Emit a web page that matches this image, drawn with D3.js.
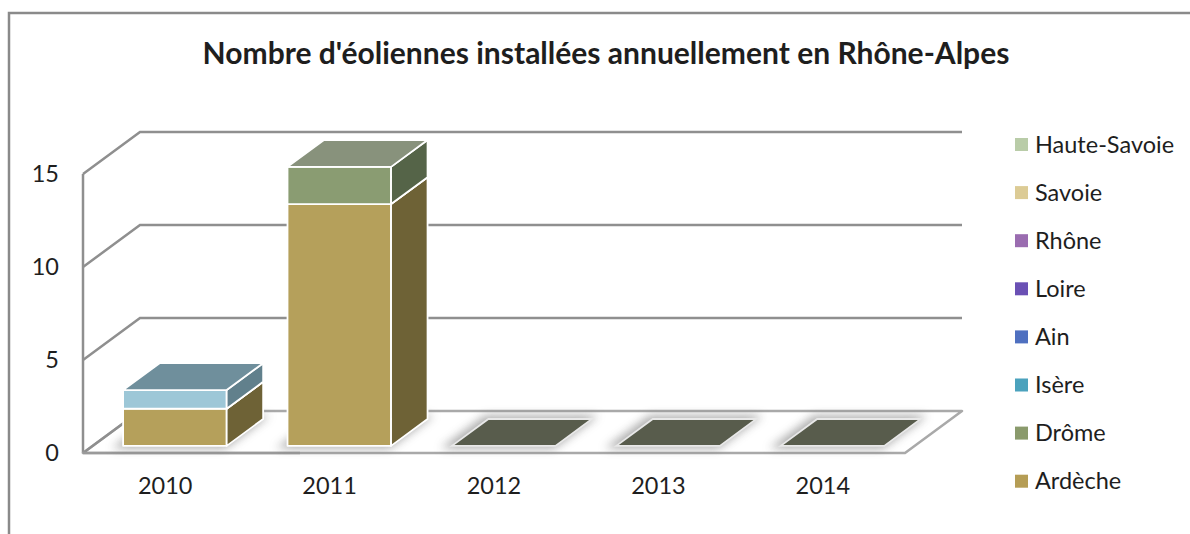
<!DOCTYPE html>
<html>
<head>
<meta charset="utf-8">
<script src="https://cdn.jsdelivr.net/npm/d3@7"></script>
<style>
  body { margin: 0; background: #fff; }
  text { font-family: Lato, "Noto Sans", sans-serif; fill: #1e1e1e; }
</style>
</head>
<body>
<script>
const years = ["2010", "2011", "2012", "2013", "2014"];
const departements = ["Ardèche", "Drôme", "Isère", "Ain", "Loire", "Rhône", "Savoie", "Haute-Savoie"];
const ardeche = [2, 13, 0, 0, 0];
const drome = [0, 2, 0, 0, 0];
const isere = [1, 0, 0, 0, 0];
const ain = [0, 0, 0, 0, 0];
const loire = [0, 0, 0, 0, 0];
const rhone = [0, 0, 0, 0, 0];
const savoie = [0, 0, 0, 0, 0];
const hauteSavoie = [0, 0, 0, 0, 0];
const yTicks = [0, 5, 10, 15];
const title = "Nombre d'éoliennes installées annuellement en Rhône-Alpes";

const WIDTH = 1190, HEIGHT = 534;
const LEFT = 83, RIGHT = 905, BOTTOM = 453, TOP = 174;
const DX = 57, DY = -42;        // depth vector of the 3D box
const FRONT = 0.17, BACK = 0.81; // bar depth inside the box

// legend colours and the lit front face colours of the bars
const legendColor = {
  "Ardèche": "#b59d55", "Drôme": "#8a9a6c", "Isère": "#4ba2bd", "Ain": "#4f70c0",
  "Loire": "#6a50b4", "Rhône": "#9a6cb0", "Savoie": "#dccb95", "Haute-Savoie": "#b9cca8"
};
const frontColor = {
  "Ardèche": "#b5a05b", "Drôme": "#8a9c72", "Isère": "#9dc7d7", "Ain": "#7f9ad6",
  "Loire": "#8d79cc", "Rhône": "#b593c8", "Savoie": "#e5d8ae", "Haute-Savoie": "#cbdabd"
};
const topColor = {
  "Ardèche": "#9a8a55", "Drôme": "#88927c", "Isère": "#6f8f9c", "Ain": "#5f78ad",
  "Loire": "#6c5d9e", "Rhône": "#8a6f99", "Savoie": "#b6aa85", "Haute-Savoie": "#a2ad96"
};
const sideColor = {
  "Ardèche": "#6e6236", "Drôme": "#556448", "Isère": "#61808c", "Ain": "#3b5190",
  "Loire": "#4a3985", "Rhône": "#6b4b7f", "Savoie": "#a3966a", "Haute-Savoie": "#889679"
};
const zeroColor = "#585c4c";

const series = [ardeche, drome, isere, ain, loire, rhone, savoie, hauteSavoie];
const rows = years.map(function (y, i) {
  const r = { year: y };
  departements.forEach(function (d, k) { r[d] = series[k][i]; });
  return r;
});
const stacked = d3.stack().keys(departements)(rows);

const xScale = d3.scaleBand()
  .domain(years)
  .range([LEFT, RIGHT])
  .paddingInner(0.37)
  .paddingOuter(0.185);

const yScale = d3.scaleLinear()
  .domain([0, 15])
  .range([BOTTOM, TOP]);

var P = function (x, y, d) {
  return [x + DX * d, y + DY * d];
};
var poly = function (pts) {
  return "M" + pts.map(function (p) { return p[0] + "," + p[1]; }).join("L") + "Z";
};

const svg = d3.select("body").append("svg")
  .attr("width", WIDTH)
  .attr("height", HEIGHT);

const defs = svg.append("defs");
defs.append("filter").attr("id", "blur")
  .attr("x", "-30%").attr("y", "-60%").attr("width", "160%").attr("height", "220%")
  .append("feGaussianBlur").attr("stdDeviation", 5);

// outer frame
svg.append("path")
  .attr("d", "M9," + HEIGHT + "L9,13L" + WIDTH + ",13")
  .attr("fill", "none")
  .attr("stroke", "#8a8a8a")
  .attr("stroke-width", 2.5);

// title
const titleText = svg.append("text")
  .attr("x", 606)
  .attr("y", 64)
  .attr("text-anchor", "middle")
  .attr("font-weight", "bold")
  .attr("font-size", 26)
  .text(title);
const tw = titleText.node().getComputedTextLength();
titleText.attr("font-size", 26 * 807 / tw);

// walls
const walls = svg.append("g")
  .attr("fill", "none")
  .attr("stroke", "#8f8f8f")
  .attr("stroke-width", 2.5);

yTicks.filter(function (t) { return t > 0; }).forEach(function (t) {
  const a = P(LEFT, yScale(t), 0), b = P(LEFT, yScale(t), 1), c = P(RIGHT, yScale(t), 1);
  walls.append("path").attr("d", "M" + a + "L" + b + "L" + c);
});
walls.append("line")
  .attr("x1", LEFT).attr("x2", LEFT)
  .attr("y1", yScale(15)).attr("y2", yScale(0));

// floor
svg.append("path")
  .attr("d", poly([P(LEFT, BOTTOM, 0), P(RIGHT, BOTTOM, 0), P(RIGHT, BOTTOM, 1), P(LEFT, BOTTOM, 1)]))
  .attr("fill", "#fff")
  .attr("stroke", "#a9a9a9")
  .attr("stroke-width", 2.5)
  .attr("stroke-linejoin", "round");
svg.append("line")
  .attr("x1", LEFT).attr("x2", LEFT + DX)
  .attr("y1", BOTTOM).attr("y2", BOTTOM + DY)
  .attr("stroke", "#8f8f8f").attr("stroke-width", 2.5);
svg.append("line")
  .attr("x1", LEFT).attr("x2", 300)
  .attr("y1", BOTTOM).attr("y2", BOTTOM)
  .attr("stroke", "#9a9a9a").attr("stroke-width", 2.5);

// shadows on the floor
const bw = xScale.bandwidth();
svg.append("g").selectAll("path")
  .data(years)
  .join("path")
  .attr("d", function (y) {
    const xl = xScale(y) - 8, xr = xScale(y) + bw + 2, y0 = yScale(0);
    return poly([P(xl, y0, FRONT - 0.06), P(xr, y0, FRONT - 0.06), P(xr, y0, BACK + 0.08), P(xl, y0, BACK + 0.08)]);
  })
  .attr("fill", "#6a6a6a")
  .attr("opacity", 0.55)
  .attr("filter", "url(#blur)");

// bar segments
const segments = [];
years.forEach(function (y, i) {
  stacked.forEach(function (s) {
    const d = s[i];
    if (d[1] > d[0]) segments.push({ year: y, key: s.key, y0: d[0], y1: d[1] });
  });
});

const segs = svg.append("g")
  .attr("stroke", "#fff")
  .attr("stroke-width", 1.8)
  .attr("stroke-linejoin", "round")
  .selectAll("g")
  .data(segments)
  .join("g");

segs.append("path")
  .attr("d", function (d) {
    const xl = xScale(d.year), xr = xl + bw, a = yScale(d.y0), b = yScale(d.y1);
    return poly([P(xl, b, FRONT), P(xr, b, FRONT), P(xr, a, FRONT), P(xl, a, FRONT)]);
  })
  .attr("fill", function (d) { return frontColor[d.key]; });

segs.append("path")
  .attr("d", function (d) {
    const xr = xScale(d.year) + bw, a = yScale(d.y0), b = yScale(d.y1);
    return poly([P(xr, b, FRONT), P(xr, b, BACK), P(xr, a, BACK), P(xr, a, FRONT)]);
  })
  .attr("fill", function (d) { return sideColor[d.key]; });

segs.append("path")
  .attr("d", function (d) {
    const xl = xScale(d.year), xr = xl + bw, b = yScale(d.y1);
    return poly([P(xl, b, FRONT), P(xl, b, BACK), P(xr, b, BACK), P(xr, b, FRONT)]);
  })
  .attr("fill", function (d) { return topColor[d.key]; });

// empty years: flat caps on the floor
const totals = rows.map(function (r) { return d3.sum(departements, function (k) { return r[k]; }); });
svg.append("g").selectAll("path")
  .data(years.filter(function (y, i) { return totals[i] === 0; }))
  .join("path")
  .attr("d", function (y) {
    const xl = xScale(y), xr = xl + bw, b = yScale(0);
    return poly([P(xl, b, FRONT), P(xl, b, BACK), P(xr, b, BACK), P(xr, b, FRONT)]);
  })
  .attr("fill", zeroColor)
  .attr("stroke", "#e8e8e8")
  .attr("stroke-width", 1.8);

// axes
const yAxis = svg.append("g")
  .attr("transform", "translate(59,0)")
  .call(d3.axisLeft(yScale).tickValues(yTicks).tickSize(0).tickPadding(0));
const xAxis = svg.append("g")
  .attr("transform", "translate(0,477)")
  .call(d3.axisBottom(xScale).tickSize(0).tickPadding(0));
[yAxis, xAxis].forEach(function (g) {
  g.select(".domain").remove();
  g.selectAll("text")
    .attr("font-size", 23.5)
    .attr("font-family", "Lato, 'Noto Sans', sans-serif")
    .attr("fill", "#1e1e1e");
});

// legend, top entry is the last series
const legend = svg.append("g").selectAll("g")
  .data(departements.slice().reverse())
  .join("g")
  .attr("transform", function (d, i) { return "translate(1015," + (144 + i * 48.1) + ")"; });
legend.append("rect")
  .attr("x", 0).attr("y", -6)
  .attr("width", 13).attr("height", 13)
  .attr("fill", function (d) { return legendColor[d]; });
legend.append("text")
  .attr("x", 20)
  .attr("y", 8.5)
  .attr("font-size", 23.5)
  .text(function (d) { return d; });
</script>
</body>
</html>
